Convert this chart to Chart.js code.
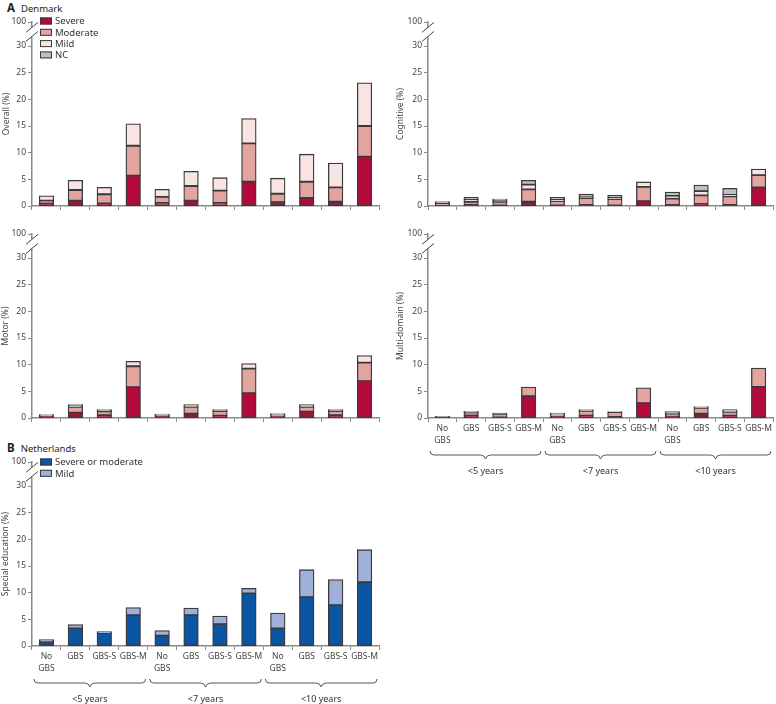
<!DOCTYPE html>
<html>
<head>
<meta charset="utf-8">
<script src="https://cdn.jsdelivr.net/npm/chart.js@4.4.0/dist/chart.umd.min.js"></script>
<style>
  body { margin: 0; background: #fff; width: 776px; height: 704px; position: relative; overflow: hidden; font-family: "Noto Sans", sans-serif; }
  .panel { position: absolute; }
  .head { position: absolute; color: #222; font-size: 9.5px; white-space: nowrap; }
  .head b { font-size: 11.5px; margin-right: 6px; }
</style>
</head>
<body>
<div class="head" style="left:7px;top:0px"><b>A</b>Denmark</div>
<div class="head" style="left:7px;top:440px"><b>B</b>Netherlands</div>

<div class="panel" style="left:0px;top:0px;width:390px;height:222px"><canvas id="overallChart"></canvas></div>
<div class="panel" style="left:390px;top:0px;width:386px;height:222px"><canvas id="cognitiveChart"></canvas></div>
<div class="panel" style="left:0px;top:212px;width:390px;height:222px"><canvas id="motorChart"></canvas></div>
<div class="panel" style="left:390px;top:212px;width:386px;height:268px"><canvas id="multiChart"></canvas></div>
<div class="panel" style="left:0px;top:440px;width:390px;height:264px"><canvas id="eduChart"></canvas></div>

<script>
// categories and tick labels
const groups = ['<5 years', '<7 years', '<10 years'];
const subgroups = [['No', 'GBS'], 'GBS', 'GBS-S', 'GBS-M'];
const categories = groups.flatMap(function () { return subgroups; });
const yTicks = [0, 5, 10, 15, 20, 25, 30];
const yTopLabel = '100';

// Denmark, overall
const overallSevere   = [0.5, 1.0, 0.5, 5.7, 0.6, 1.0, 0.6, 4.55, 0.7, 1.5, 0.8, 9.25];
const overallModerate = [0.5, 2.0, 1.7, 5.6, 1.1, 2.75, 2.3, 7.2, 1.6, 3.05, 2.7, 5.75];
const overallMild     = [0.9, 1.8, 1.3, 4.1, 1.4, 2.75, 2.4, 4.65, 2.9, 5.15, 4.55, 8.1];
const overallNC       = [0, 0, 0, 0, 0, 0, 0, 0, 0, 0, 0, 0];

// Denmark, cognitive
const cognitiveSevere   = [0.1, 0.2, 0.1, 0.8, 0.1, 0.2, 0.1, 0.9, 0.2, 0.4, 0.2, 3.5];
const cognitiveModerate = [0.4, 0.6, 0.7, 2.3, 0.8, 1.3, 1.2, 2.7, 1.2, 1.6, 1.6, 2.3];
const cognitiveMild     = [0.1, 0.4, 0.2, 0.9, 0.3, 0.3, 0.2, 0.9, 0.5, 0.8, 0.3, 1.1];
const cognitiveNC       = [0.2, 0.4, 0.3, 0.8, 0.4, 0.4, 0.5, 0, 0.7, 1.1, 1.2, 0];

// Denmark, motor
const motorSevere   = [0.3, 1.0, 0.55, 5.8, 0.3, 0.8, 0.45, 4.65, 0.35, 1.2, 0.55, 6.9];
const motorModerate = [0.15, 1.1, 0.7, 3.9, 0.2, 1.3, 0.85, 4.6, 0.25, 0.9, 0.75, 3.5];
const motorMild     = [0.1, 0.2, 0.15, 0.9, 0.1, 0.1, 0.1, 0.95, 0.1, 0.1, 0.1, 1.3];
const motorNC       = [0.1, 0.2, 0.15, 0, 0.1, 0.3, 0.15, 0, 0.1, 0.3, 0.15, 0];

// Denmark, multi-domain
const multiSevere   = [0.15, 0.5, 0.1, 4.1, 0.3, 0.45, 0.2, 2.8, 0.3, 0.8, 0.45, 5.85];
const multiModerate = [0.1, 0.5, 0.7, 1.7, 0.3, 0.9, 0.9, 2.85, 0.5, 1.1, 0.7, 3.5];
const multiMild     = [0, 0.1, 0.1, 0, 0.2, 0.1, 0.1, 0, 0.1, 0.1, 0.1, 0];
const multiNC       = [0.05, 0.15, 0, 0, 0.1, 0.1, 0, 0, 0.3, 0.15, 0.3, 0];

// Netherlands, special education
const eduSevereModerate = [0.75, 3.3, 2.4, 5.8, 1.95, 5.8, 4.1, 9.85, 3.3, 9.15, 7.65, 11.95];
const eduMild           = [0.45, 0.7, 0.3, 1.4, 0.95, 1.3, 1.5, 0.95, 2.85, 5.15, 4.8, 6.1];

const FONT = { family: '"Noto Sans", sans-serif', size: 8.5, lineHeight: 1.4 };
const AXIS = '#8a8a8a';
const EDGE = '#3a3a3a';
const TOP = 34.5;   // where the "100" tick sits above the break

function dk(sev, mod, mild, nc) {
    return [
        { label: 'Severe', data: sev, backgroundColor: '#b3093b' },
        { label: 'Moderate', data: mod, backgroundColor: '#e2a49f' },
        { label: 'Mild', data: mild, backgroundColor: '#f9e3e3' },
        { label: 'NC', data: nc, backgroundColor: '#b9c0c7' }
    ];
}

// broken y axis: gap plus two slashes
const breakPlugin = {
    id: 'axisBreak',
    afterDraw: function (chart) {
        var y = chart.scales.y, ctx = chart.ctx, x = y.right;
        var a = y.getPixelForValue(33.5), b = y.getPixelForValue(31.8);
        ctx.save();
        ctx.fillStyle = '#fff';
        ctx.fillRect(x - 2, a, 4, b - a);
        ctx.strokeStyle = '#444';
        ctx.lineWidth = 1;
        [a, b].forEach(function (p) {
            ctx.beginPath();
            ctx.moveTo(x - 6, p + 5);
            ctx.lineTo(x + 6, p - 5);
            ctx.stroke();
        });
        ctx.restore();
    }
};

// small legend drawn inside the plot
const boxLegend = {
    id: 'boxLegend',
    afterDraw: function (chart, args, opts) {
        if (!opts.show) return;
        var ctx = chart.ctx;
        ctx.save();
        ctx.font = '9.5px "Noto Sans", sans-serif';
        ctx.textBaseline = 'middle';
        chart.data.datasets.forEach(function (ds, i) {
            var yy = opts.y + i * opts.step;
            ctx.fillStyle = ds.backgroundColor;
            ctx.fillRect(opts.x, yy - 3.5, 12, 7);
            ctx.strokeStyle = EDGE;
            ctx.lineWidth = 1;
            ctx.strokeRect(opts.x + 0.5, yy - 3, 11, 6);
            ctx.fillStyle = '#333';
            ctx.fillText(ds.label, opts.x + 15, yy + 0.5);
        });
        ctx.restore();
    }
};

// curly braces and age-group labels under the x axis
const bracePlugin = {
    id: 'braces',
    afterDraw: function (chart, args, opts) {
        if (!opts.show) return;
        var xs = chart.scales.x, ctx = chart.ctx;
        var half = (xs.getPixelForValue(1) - xs.getPixelForValue(0)) / 2;
        var y = chart.chartArea.bottom + 37;
        ctx.save();
        ctx.strokeStyle = '#555';
        ctx.lineWidth = 1;
        groups.forEach(function (g, i) {
            var x0 = xs.getPixelForValue(i * 4) - half + 2;
            var x1 = xs.getPixelForValue(i * 4 + 3) + half - 2;
            var m = (x0 + x1) / 2;
            ctx.beginPath();
            ctx.moveTo(x0, y - 4);
            ctx.quadraticCurveTo(x0, y, x0 + 4, y);
            ctx.lineTo(m - 5, y);
            ctx.quadraticCurveTo(m - 1, y, m, y + 4);
            ctx.quadraticCurveTo(m + 1, y, m + 5, y);
            ctx.lineTo(x1 - 4, y);
            ctx.quadraticCurveTo(x1, y, x1, y - 4);
            ctx.stroke();
            ctx.fillStyle = '#333';
            ctx.font = '9px "Noto Sans", sans-serif';
            ctx.textAlign = 'center';
            ctx.textBaseline = 'middle';
            ctx.fillText(g, m, chart.chartArea.bottom + 53);
        });
        ctx.restore();
    }
};

function makeChart(id, datasets, o) {
    datasets.forEach(function (d) {
        d.borderColor = EDGE;
        d.borderWidth = 1.3;
        d.borderSkipped = false;
        d.inflateAmount = 0.4;
        d.barPercentage = 0.5;
        d.categoryPercentage = 1;
    });
    return new Chart(document.getElementById(id).getContext('2d'), {
        type: 'bar',
        data: { labels: categories, datasets: datasets },
        plugins: [breakPlugin, boxLegend, bracePlugin],
        options: {
            responsive: true,
            maintainAspectRatio: false,
            animation: false,
            layout: { padding: { top: 22, right: o.right, left: 0, bottom: 0 } },
            plugins: {
                legend: { display: false },
                tooltip: { enabled: false },
                boxLegend: o.legend || { show: false },
                braces: { show: !!o.labels }
            },
            scales: {
                x: {
                    stacked: true,
                    offset: true,
                    afterFit: function (s) { s.height = o.xh; },
                    grid: { drawOnChartArea: false, drawTicks: true, tickLength: 4, color: AXIS, offset: true },
                    border: { color: AXIS, width: 1.5 },
                    ticks: { display: !!o.labels, font: FONT, color: '#444', padding: 1, maxRotation: 0, autoSkip: false }
                },
                y: {
                    stacked: true,
                    min: 0,
                    max: TOP,
                    afterFit: function (s) { s.width = o.yw; },
                    afterBuildTicks: function (s) {
                        s.ticks = yTicks.map(function (v) { return { value: v }; }).concat([{ value: TOP }]);
                    },
                    grid: { drawOnChartArea: false, drawTicks: true, tickLength: 4, color: AXIS },
                    border: { color: AXIS, width: 1.5 },
                    ticks: {
                        font: FONT, color: '#444', padding: 2,
                        callback: function (v) { return v === TOP ? yTopLabel : v; }
                    },
                    title: { display: true, text: o.title, font: FONT, color: '#444', padding: { top: o.tp, bottom: 0 } }
                }
            }
        }
    });
}

var overallChart = makeChart('overallChart', dk(overallSevere, overallModerate, overallMild, overallNC),
    { title: 'Overall (%)', yw: 32, right: 11, xh: 16, tp: 1, legend: { show: true, x: 40, y: 21, step: 11.3 } });

var cognitiveChart = makeChart('cognitiveChart', dk(cognitiveSevere, cognitiveModerate, cognitiveMild, cognitiveNC),
    { title: 'Cognitive (%)', yw: 38, right: 3, xh: 16, tp: 5 });

var motorChart = makeChart('motorChart', dk(motorSevere, motorModerate, motorMild, motorNC),
    { title: 'Motor (%)', yw: 32, right: 11, xh: 16, tp: 0 });

var multiChart = makeChart('multiChart', dk(multiSevere, multiModerate, multiMild, multiNC),
    { title: 'Multi-domain (%)', yw: 38, right: 3, xh: 62, tp: 5, labels: true });

var eduChart = makeChart('eduChart', [
        { label: 'Severe or moderate', data: eduSevereModerate, backgroundColor: '#0b56a4' },
        { label: 'Mild', data: eduMild, backgroundColor: '#a0b1d9' }
    ],
    { title: 'Special education (%)', yw: 32, right: 11, xh: 58, tp: 0, labels: true, legend: { show: true, x: 40, y: 22, step: 11.3 } });
</script>
</body>
</html>
